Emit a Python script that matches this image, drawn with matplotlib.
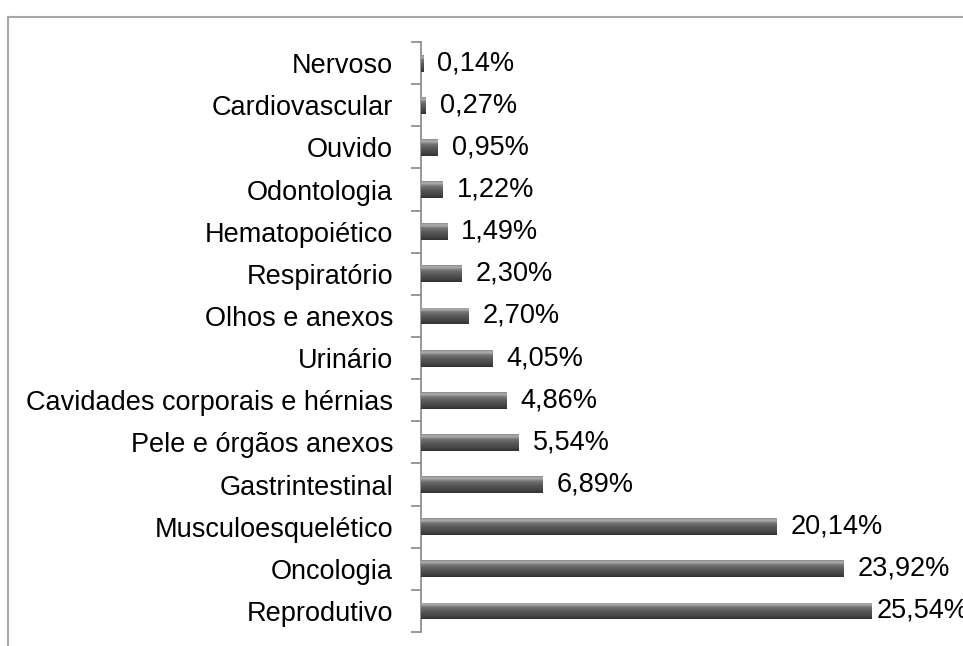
import matplotlib
matplotlib.use("Agg")
import matplotlib.pyplot as plt
import numpy as np
from matplotlib.colors import LinearSegmentedColormap
from matplotlib.lines import Line2D

categories = ["Nervoso", "Cardiovascular", "Ouvido", "Odontologia", "Hematopoiético",
              "Respiratório", "Olhos e anexos", "Urinário", "Cavidades corporais e hérnias",
              "Pele e órgãos anexos", "Gastrintestinal", "Musculoesquelético",
              "Oncologia", "Reprodutivo"]
values = [0.14, 0.27, 0.95, 1.22, 1.49, 2.30, 2.70, 4.05, 4.86, 5.54, 6.89, 20.14, 23.92, 25.54]
labels = ["0,14%", "0,27%", "0,95%", "1,22%", "1,49%", "2,30%", "2,70%", "4,05%", "4,86%",
          "5,54%", "6,89%", "20,14%", "23,92%", "25,54%"]

plt.rcParams['font.family'] = ['Liberation Sans', 'DejaVu Sans']

fig = plt.figure(figsize=(9.63, 6.46), dpi=100)
ax = fig.add_axes([421/963, 1 - 632/646, 1 - 421/963, (632 - 42)/646])

# outer frame lines
fig.add_artist(Line2D([8/963, 8/963], [0, 1 - 17/646], transform=fig.transFigure,
                      color="#a6a6a6", lw=1.5))
fig.add_artist(Line2D([8/963, 1], [1 - 17/646, 1 - 17/646], transform=fig.transFigure,
                      color="#a6a6a6", lw=1.5))

y = np.arange(len(categories))
h = 0.4
bars = ax.barh(y, values, height=h, color="#555555", edgecolor="none", zorder=2)

# cylinder-like gradient
grad_cmap = LinearSegmentedColormap.from_list(
    "cyl", [(0.0, "#8a8a8a"), (0.12, "#b0b0b0"), (0.3, "#747474"),
            (0.55, "#575757"), (0.85, "#424242"), (1.0, "#303030")])
g = np.linspace(0, 1, 64).reshape(-1, 1)
for b in bars:
    x0, yb = b.get_x(), b.get_y()
    w, hh = b.get_width(), b.get_height()
    im = ax.imshow(g, cmap=grad_cmap, aspect="auto", interpolation="bilinear",
                   extent=[x0, x0 + w, yb + hh, yb], zorder=3)
    im.set_clip_path(b)

for i, (v, lab) in enumerate(zip(values, labels)):
    off = 3.5 if i == len(values) - 1 else 10
    ax.annotate(lab, (v, i), xytext=(off, 0), textcoords="offset points",
                ha="left", va="center", fontsize=19.5, color="black", annotation_clip=False)

ax.set_xlim(0, (963 - 421) / ((872 - 421) / 25.54))
ax.set_ylim(len(categories) - 0.5, -0.5)

ax.set_yticks(y)
ax.set_yticklabels(categories, fontsize=19.5)
ax.set_yticks(np.arange(-0.5, len(categories)), minor=True)
ax.tick_params(axis="y", which="major", length=0, pad=20)
ax.tick_params(axis="y", which="minor", length=7, color="#868686", width=1.2, direction="out")
ax.set_xticks([])
for s in ["top", "right", "bottom"]:
    ax.spines[s].set_visible(False)
ax.spines["left"].set_color("#868686")
ax.spines["left"].set_linewidth(1.2)

fig.savefig("out.png", dpi=100)
